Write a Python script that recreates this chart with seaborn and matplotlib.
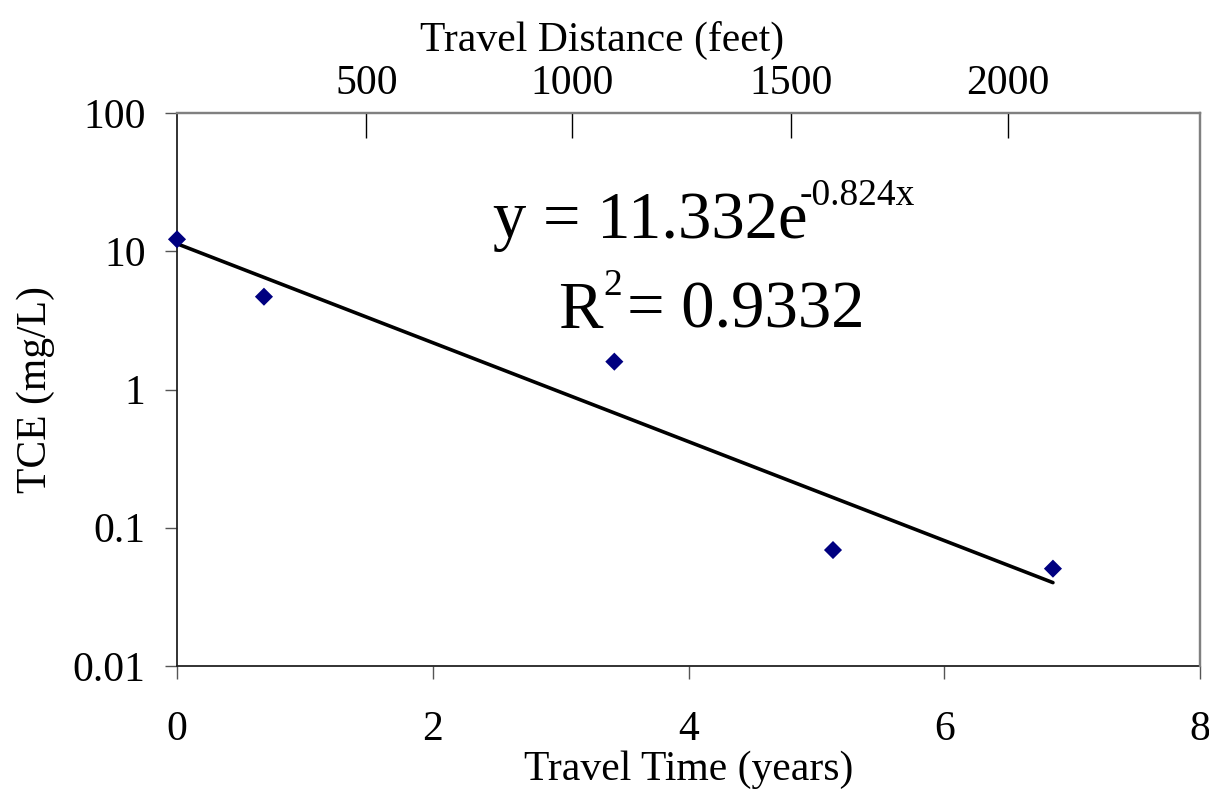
import numpy as np
import pandas as pd
import matplotlib
matplotlib.use("Agg")
import matplotlib.pyplot as plt
import seaborn as sns

# ---- data ----
travel_time_years = [0.0, 0.68, 3.42, 5.13, 6.85]
tce_mg_per_l = [12.2, 4.69, 1.59, 0.069, 0.0506]

trend_years = [0.0, 6.85]
trend_tce = [11.332, 0.0401]

x_ticks = [0, 2, 4, 6, 8]
y_ticks = [0.01, 0.1, 1, 10, 100]
y_tick_labels = ["0.01", "0.1", "1", "10", "100"]

distance_labels = ["500", "1000", "1500", "2000"]
distance_tick_years = [1.48, 3.09, 4.80, 6.50]

eq_main = "y = 11.332e"
eq_exp = "-0.824x"
r2_main = "R"
r2_exp = "2"
r2_rest = "= 0.9332"

sns.set_theme(style="white")
plt.rcParams["font.family"] = ["Liberation Serif", "DejaVu Serif"]
plt.rcParams["text.color"] = "black"
plt.rcParams["axes.labelcolor"] = "black"
plt.rcParams["xtick.labelcolor"] = "black"
plt.rcParams["ytick.labelcolor"] = "black"

df = pd.DataFrame({"years": travel_time_years, "tce": tce_mg_per_l})
trend = pd.DataFrame({"years": trend_years, "tce": trend_tce})

fig = plt.figure(figsize=(12.09, 7.89), dpi=100)
ax = fig.add_axes([177 / 1209, 1 - 666 / 789, (1200 - 177) / 1209, (666 - 113) / 789])

sns.lineplot(data=trend, x="years", y="tce", ax=ax, color="black", linewidth=2.6)
sns.scatterplot(data=df, x="years", y="tce", ax=ax, marker="D", s=85,
                color="#000080", edgecolor="none", linewidth=0, clip_on=False, zorder=5)

ax.set_yscale("log")
ax.set_xlim(0, 8)
ax.set_ylim(0.01, 100)
ax.set_xticks(x_ticks)
ax.set_xticklabels([str(t) for t in x_ticks])
ax.set_yticks(y_ticks)
ax.set_yticklabels(y_tick_labels)
ax.yaxis.set_minor_locator(matplotlib.ticker.NullLocator())

ax.tick_params(axis="x", which="major", direction="out", length=9.4, width=1.0,
               color="#555555", pad=23, labelsize=30, labelcolor="black", bottom=True)
ax.tick_params(axis="y", which="major", direction="out", length=8.6, width=1.0,
               color="#555555", pad=14, labelsize=30, labelcolor="black", left=True)

ax.set_xlabel("Travel Time (years)", fontsize=30, color="black")
ax.set_ylabel("TCE (mg/L)", fontsize=30, color="black")
ax.xaxis.set_label_coords(0.5, -0.152)
ax.yaxis.set_label_coords(-0.119, 0.5)

for side in ["left", "bottom"]:
    ax.spines[side].set_color("#222222")
    ax.spines[side].set_linewidth(1.3)
for side in ["top", "right"]:
    ax.spines[side].set_color("#808080")
    ax.spines[side].set_linewidth(1.6)

# top axis: travel distance
ax2 = ax.twiny()
ax2.set_xlim(0, 8)
ax2.set_xticks(distance_tick_years)
ax2.set_xticklabels(distance_labels)
ax2.tick_params(axis="x", direction="in", length=18, width=1.0, color="black",
                pad=7, labelsize=30, labelcolor="black")
ax2.set_xlabel("Travel Distance (feet)", fontsize=30, color="black")
ax2.xaxis.set_label_coords(0.4156, 1.112)
for side in ["left", "bottom"]:
    ax2.spines[side].set_visible(False)
for side in ["top", "right"]:
    ax2.spines[side].set_color("#808080")
    ax2.spines[side].set_linewidth(1.6)

# equation text
def fx(px):
    return (px - 177) / 1023

def fy(py):
    return (666 - py) / 553

ax.text(fx(493), fy(238), eq_main, transform=ax.transAxes, fontsize=48,
        ha="left", va="baseline", color="black")
ax.text(fx(800), fy(205), eq_exp, transform=ax.transAxes, fontsize=27,
        ha="left", va="baseline", color="black")
ax.text(fx(558), fy(328), r2_main, transform=ax.transAxes, fontsize=48,
        ha="left", va="baseline", color="black")
ax.text(fx(603), fy(295), r2_exp, transform=ax.transAxes, fontsize=27,
        ha="left", va="baseline", color="black")
ax.text(fx(627), fy(328), r2_rest, transform=ax.transAxes, fontsize=48,
        ha="left", va="baseline", color="black")

fig.savefig("out.png", dpi=100)
